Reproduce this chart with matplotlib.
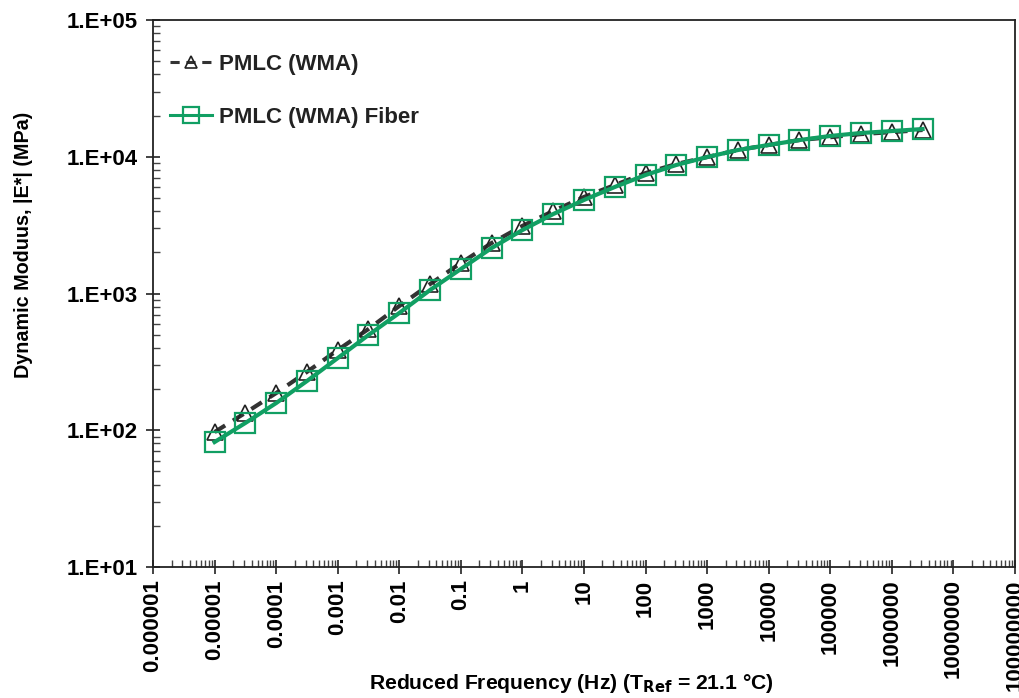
import numpy as np
import matplotlib
matplotlib.use("Agg")
import matplotlib.pyplot as plt
from matplotlib.ticker import FixedLocator, LogLocator, NullFormatter

plt.rcParams["font.family"] = ["Liberation Sans", "DejaVu Sans"]
plt.rcParams["font.weight"] = "bold"
plt.rcParams["mathtext.fontset"] = "custom"
plt.rcParams["mathtext.rm"] = "Liberation Sans Narrow:bold"
plt.rcParams["mathtext.bf"] = "Liberation Sans Narrow:bold"

# reduced frequency (Hz), half-decade steps
freq = [1e-5, 3.162e-5, 1e-4, 3.162e-4, 1e-3, 3.162e-3, 1e-2, 3.162e-2,
        0.1, 0.3162, 1, 3.162, 10, 31.62, 100, 316.2, 1000, 3162,
        1e4, 3.162e4, 1e5, 3.162e5, 1e6, 3.162e6]

# |E*| in MPa
pmlc_wma = [97, 134, 187, 267, 386, 550, 810, 1172, 1670, 2340, 3120, 4010,
            5080, 6210, 7600, 8850, 9950, 11200, 12200, 13250, 13900, 14650,
            15150, 15700]
pmlc_wma_fiber = [82, 113, 158, 229, 337, 497, 720, 1060, 1510, 2150, 2910,
                  3810, 4830, 6010, 7360, 8710, 9950, 11200, 12200, 13250,
                  14190, 14920, 15420, 15950]

x_ticks = [1e-6, 1e-5, 1e-4, 1e-3, 1e-2, 1e-1, 1, 10, 100, 1e3, 1e4, 1e5, 1e6, 1e7, 1e8]
x_labels = ["0.000001", "0.00001", "0.0001", "0.001", "0.01", "0.1", "1", "10",
            "100", "1000", "10000", "100000", "1000000", "10000000", "100000000"]
y_ticks = [1e1, 1e2, 1e3, 1e4, 1e5]
y_labels = ["1.E+01", "1.E+02", "1.E+03", "1.E+04", "1.E+05"]

green = "#119f63"

fig = plt.figure(figsize=(10.2, 6.98), dpi=100)
ax = fig.add_axes([0.150, 0.1877, 0.845, 0.7836])

ax.plot(freq, pmlc_wma, color="#333333", lw=3, ls=(0, (3, 2.2)),
        marker="^", ms=12, mfc="none", mec="#222222", mew=1.2,
        label="PMLC (WMA)")
ax.plot(freq, pmlc_wma_fiber, color=green, lw=3,
        marker="s", ms=15, mfc="none", mec=green, mew=1.6,
        label="PMLC (WMA) Fiber")

ax.set_xscale("log")
ax.set_yscale("log")
ax.set_xlim(1e-6, 1e8)
ax.set_ylim(1e1, 1e5)

ax.xaxis.set_major_locator(FixedLocator(x_ticks))
ax.set_xticklabels(x_labels, rotation=90, fontsize=16, fontweight="bold")
ax.yaxis.set_major_locator(FixedLocator(y_ticks))
ax.set_yticklabels(y_labels, fontsize=16, fontweight="bold")
ax.xaxis.set_minor_locator(LogLocator(base=10, subs=np.arange(2, 10), numticks=30))
ax.yaxis.set_minor_locator(LogLocator(base=10, subs=np.arange(2, 10), numticks=30))
ax.xaxis.set_minor_formatter(NullFormatter())
ax.yaxis.set_minor_formatter(NullFormatter())

ax.tick_params(which="major", direction="inout", length=10, width=1.2, color="#222222")
ax.tick_params(axis="y", which="major", pad=6)
ax.tick_params(axis="x", which="major", pad=4)
ax.tick_params(which="minor", direction="in", length=5, width=1, color="#444444")
for s in ax.spines.values():
    s.set_linewidth(1.3)
    s.set_color("#222222")

ax.set_xlabel("Reduced Frequency (Hz) (T$_{\\mathrm{Ref}}$ = 21.1 °C)",
              fontsize=15.2, fontweight="bold",
              family=["Liberation Sans Narrow", "Liberation Sans", "DejaVu Sans"])
ax.xaxis.set_label_coords(0.485, -0.192)
ax.set_ylabel("Dynamic Moduus, |E*| (MPa)", fontsize=14.2, fontweight="bold")
ax.yaxis.set_label_coords(-0.139, 0.589)

leg = ax.legend(loc="upper left", frameon=False, fontsize=16, handlelength=1.9,
                labelspacing=1.45, borderaxespad=0.4, handletextpad=0.3,
                markerscale=0.75, bbox_to_anchor=(-0.001, 0.971))
for t in leg.get_texts():
    t.set_fontweight("bold")
    t.set_color("#222222")
for h in leg.legend_handles:
    h.set_linewidth(2.2)

fig.savefig("out.png", dpi=100, facecolor="white")
